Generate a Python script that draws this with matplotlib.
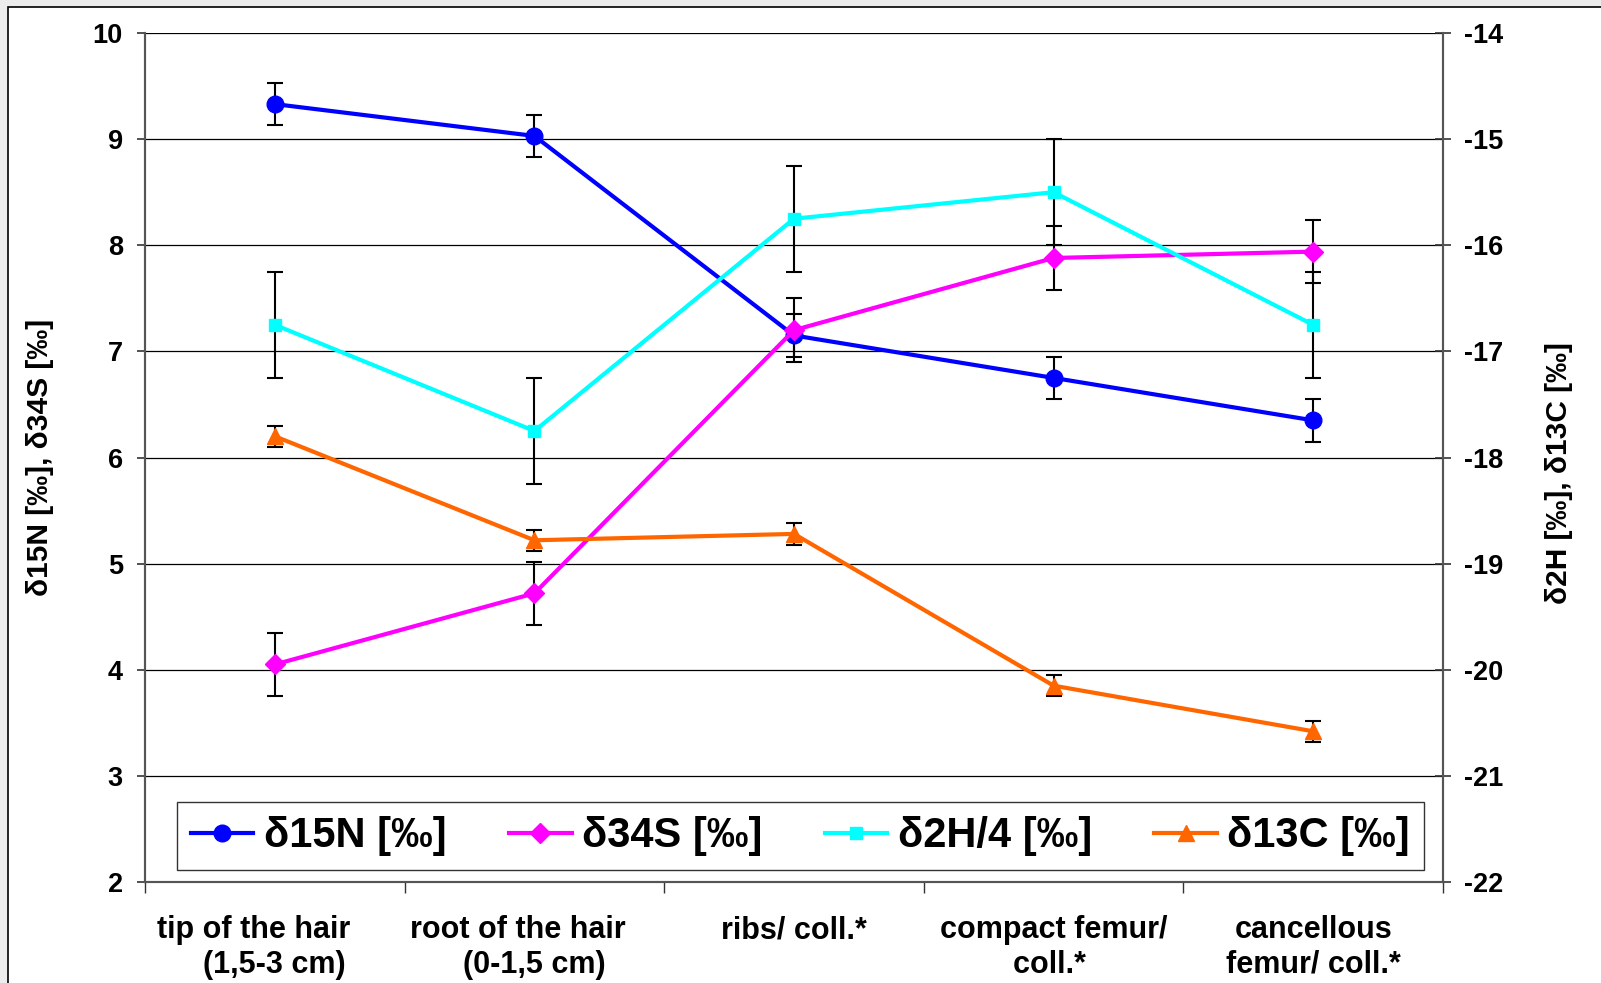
import matplotlib
matplotlib.use("Agg")
import matplotlib.pyplot as plt
from matplotlib.patches import Rectangle

# sample sites (x categories)
categories = [
    "tip of the hair     \n(1,5-3 cm)",
    "root of the hair    \n(0-1,5 cm)",
    "ribs/ coll.*",
    "compact femur/\ncoll.* ",
    "cancellous\nfemur/ coll.*",
]

# left axis series
d15n = [9.33, 9.03, 7.15, 6.75, 6.35]
d15n_err = [0.2, 0.2, 0.2, 0.2, 0.2]
d34s = [4.05, 4.72, 7.2, 7.88, 7.94]
d34s_err = [0.3, 0.3, 0.3, 0.3, 0.3]

# right axis series
d2h_4 = [-16.75, -17.75, -15.75, -15.5, -16.75]
d2h_4_err = [0.5, 0.5, 0.5, 0.5, 0.5]
d13c = [-17.8, -18.78, -18.72, -20.15, -20.58]
d13c_err = [0.1, 0.1, 0.1, 0.1, 0.1]

plt.rcParams["font.family"] = ["Liberation Sans", "DejaVu Sans"]
plt.rcParams["font.weight"] = "bold"
plt.rcParams["axes.unicode_minus"] = False

fig = plt.figure(figsize=(16.01, 9.83), dpi=100, facecolor="#ececec")
fig.patches.append(Rectangle((8 / 1601, -0.1), 1.2, 1.1 - 7 / 983,
                             transform=fig.transFigure, facecolor="white",
                             edgecolor="black", linewidth=1.2, zorder=-5))

ax = fig.add_axes([145 / 1601, 1 - 882 / 983, 1298 / 1601, 849 / 983])
ax.patch.set_alpha(0)
ax2 = ax.twinx()

x = [i + 0.5 for i in range(len(categories))]

series = [
    (ax, d15n, d15n_err, "#0000ff", "o", 12, "δ15N [‰]"),
    (ax, d34s, d34s_err, "#ff00ff", "D", 10, "δ34S [‰]"),
    (ax2, d2h_4, d2h_4_err, "#00ffff", "s", 8.5, "δ2H/4 [‰]"),
    (ax2, d13c, d13c_err, "#ff6600", "^", 12, "δ13C [‰]"),
]
handles = []
for a, y, err, color, marker, ms, label in series:
    a.errorbar(x, y, yerr=err, fmt="none", ecolor="black", elinewidth=1.5,
               capsize=6, capthick=1.5, zorder=2)
    line, = a.plot(x, y, color=color, marker=marker, markersize=ms,
                   linewidth=3, label=label, zorder=3)
    handles.append(line)

ax.set_xlim(0, 5)
ax.set_ylim(2, 10)
ax2.set_ylim(-22, -14)
ax.set_yticks(range(2, 11))
ax2.set_yticks(range(-22, -13))
ax.set_xticks(range(0, 6))
ax.set_xticks(x, minor=True)
ax.set_xticklabels([])
ax.set_xticklabels(categories, minor=True, fontsize=22, fontweight="bold")
ax.tick_params(axis="x", which="major", direction="out", length=8,
               width=1, color="#333333")
ax.tick_params(axis="x", which="minor", length=0, pad=24)
ax.tick_params(axis="y", direction="out", length=6, width=1.2,
               labelsize=19.5, pad=10, color="#333333")
ax2.tick_params(axis="y", direction="inout", length=12, width=1.2,
                labelsize=19.5, pad=9, color="#333333")

ax.grid(axis="y", color="black", linewidth=0.9)
ax.set_axisbelow(True)
for a in (ax, ax2):
    a.spines["top"].set_visible(False)
    for s in ("left", "right", "bottom"):
        a.spines[s].set_color("#555555")
        a.spines[s].set_linewidth(1.5)

ax.set_ylabel("δ15N [‰], δ34S [‰]", fontsize=21.5, fontweight="bold",
              labelpad=28)
ax2.set_ylabel("δ2H [‰], δ13C [‰]", fontsize=21.5, fontweight="bold",
               labelpad=30)
ax2.yaxis.label.set_y(0.482)

leg = ax2.legend(handles=handles, loc="center", bbox_to_anchor=(0.505, 0.054),
                 ncol=4, frameon=True, fancybox=False,
                 handlelength=1.5, handletextpad=0.25, columnspacing=1.5,
                 borderpad=0.33, prop={"size": 30, "weight": "bold"})
leg.get_frame().set_edgecolor("black")
leg.get_frame().set_linewidth(1.0)

fig.savefig("out.png", dpi=100, facecolor=fig.get_facecolor())
